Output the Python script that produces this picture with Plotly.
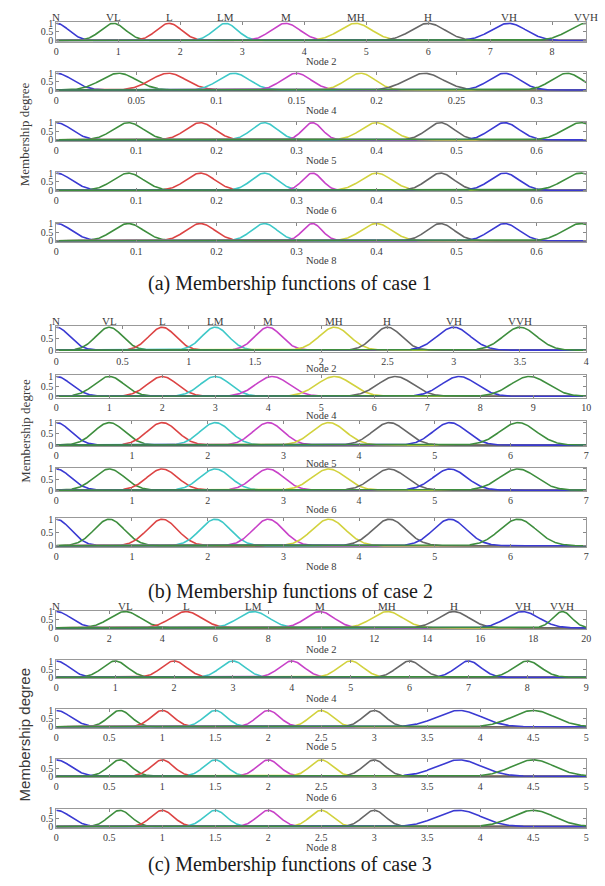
import numpy as np
import plotly.graph_objects as go

# ---------------- data ----------------
MF_NAMES = ["N", "VL", "L", "LM", "M", "MH", "H", "VH", "VVH"]
NODE_NAMES = ["Node 2", "Node 4", "Node 5", "Node 6", "Node 8"]
CASE_CAPTIONS = [
    "(a) Membership functions of case 1",
    "(b) Membership functions of case 2",
    "(c) Membership functions of case 3",
]
Y_TITLE = "Membership degree"
Y_TICK_VALUES = [0, 0.5, 1]
Y_TICK_LABELS = ["0", "0.5", "1"]

# case 1
c1_n2_centers = [0, 0.92, 1.82, 2.73, 3.70, 4.83, 6.00, 7.30, 8.55]
c1_n2_sigmas = [0.20, 0.20, 0.20, 0.19, 0.23, 0.26, 0.27, 0.28, 0.28]
c1_n2_range = [0, 8.55]
c1_n2_ticks = [0, 1, 2, 3, 4, 5, 6, 7, 8]
c1_n2_ticklabels = ["0", "1", "2", "3", "4", "5", "6", "7", "8"]

c1_n4_centers = [0, 0.039, 0.070, 0.111, 0.150, 0.190, 0.230, 0.280, 0.319]
c1_n4_sigmas = [0.010, 0.011, 0.011, 0.0095, 0.009, 0.009, 0.0115, 0.0095, 0.0095]
c1_n4_range = [0, 0.331]
c1_n4_ticks = [0, 0.05, 0.1, 0.15, 0.2, 0.25, 0.3]
c1_n4_ticklabels = ["0", "0.05", "0.1", "0.15", "0.2", "0.25", "0.3"]

c1_n568_centers = [0, 0.09, 0.18, 0.26, 0.32, 0.40, 0.48, 0.56, 0.655]
c1_n568_sigmas = [0.019, 0.019, 0.018, 0.016, 0.012, 0.019, 0.017, 0.018, 0.021]
c1_n568_range = [0, 0.662]
c1_n568_ticks = [0, 0.1, 0.2, 0.3, 0.4, 0.5, 0.6]
c1_n568_ticklabels = ["0", "0.1", "0.2", "0.3", "0.4", "0.5", "0.6"]

# case 2
c2_n2_centers = [0, 0.40, 0.80, 1.20, 1.60, 2.10, 2.50, 3.00, 3.50]
c2_n2_sigmas = [0.10, 0.10, 0.10, 0.10, 0.10, 0.115, 0.105, 0.125, 0.125]
c2_n2_range = [0, 4]
c2_n2_ticks = [0, 0.5, 1, 1.5, 2, 2.5, 3, 3.5, 4]
c2_n2_ticklabels = ["0", "0.5", "1", "1.5", "2", "2.5", "3", "3.5", "4"]

c2_n4_centers = [0, 1.0, 2.0, 3.0, 4.08, 5.25, 6.4, 7.6, 8.93]
c2_n4_sigmas = [0.28, 0.28, 0.28, 0.28, 0.31, 0.33, 0.33, 0.33, 0.35]
c2_n4_range = [0, 10]
c2_n4_ticks = [0, 1, 2, 3, 4, 5, 6, 7, 8, 9, 10]
c2_n4_ticklabels = ["0", "1", "2", "3", "4", "5", "6", "7", "8", "9", "10"]

c2_n568_centers = [0, 0.70, 1.40, 2.10, 2.80, 3.60, 4.40, 5.20, 6.10]
c2_n568_sigmas = [0.19, 0.20, 0.20, 0.20, 0.20, 0.22, 0.22, 0.22, 0.24]
c2_n568_range = [0, 7]
c2_n568_ticks = [0, 1, 2, 3, 4, 5, 6, 7]
c2_n568_ticklabels = ["0", "1", "2", "3", "4", "5", "6", "7"]

# case 3
c3_n2_centers = [0, 2.6, 4.9, 7.45, 9.95, 12.5, 15.0, 17.6, 19.1]
c3_n2_sigmas = [0.55, 0.58, 0.58, 0.58, 0.53, 0.58, 0.58, 0.62, 0.36]
c3_n2_range = [0, 20]
c3_n2_ticks = [0, 2, 4, 6, 8, 10, 12, 14, 16, 18, 20]
c3_n2_ticklabels = ["0", "2", "4", "6", "8", "10", "12", "14", "16", "18", "20"]

c3_n4_centers = [0, 1, 2, 3, 4, 5, 6, 7, 8]
c3_n4_sigmas = [0.22, 0.21, 0.21, 0.21, 0.21, 0.21, 0.21, 0.21, 0.23]
c3_n4_range = [0, 9]
c3_n4_ticks = [0, 1, 2, 3, 4, 5, 6, 7, 8, 9]
c3_n4_ticklabels = ["0", "1", "2", "3", "4", "5", "6", "7", "8", "9"]

c3_n568_centers = [0, 0.6, 1.0, 1.5, 2.0, 2.5, 3.0, 3.8, 4.5]
c3_n568_sigmas = [0.135, 0.105, 0.105, 0.105, 0.105, 0.105, 0.105, 0.21, 0.2]
c3_n568_range = [0, 5]
c3_n568_ticks = [0, 0.5, 1, 1.5, 2, 2.5, 3, 3.5, 4, 4.5, 5]
c3_n568_ticklabels = ["0", "0.5", "1", "1.5", "2", "2.5", "3", "3.5", "4", "4.5", "5"]


def panel(centers, sigmas, rng, ticks, labels):
    return dict(centers=centers, sigmas=sigmas, range=rng, ticks=ticks, labels=labels)


cases = [
    [panel(c1_n2_centers, c1_n2_sigmas, c1_n2_range, c1_n2_ticks, c1_n2_ticklabels),
     panel(c1_n4_centers, c1_n4_sigmas, c1_n4_range, c1_n4_ticks, c1_n4_ticklabels),
     panel(c1_n568_centers, c1_n568_sigmas, c1_n568_range, c1_n568_ticks, c1_n568_ticklabels),
     panel(c1_n568_centers, c1_n568_sigmas, c1_n568_range, c1_n568_ticks, c1_n568_ticklabels),
     panel(c1_n568_centers, c1_n568_sigmas, c1_n568_range, c1_n568_ticks, c1_n568_ticklabels)],
    [panel(c2_n2_centers, c2_n2_sigmas, c2_n2_range, c2_n2_ticks, c2_n2_ticklabels),
     panel(c2_n4_centers, c2_n4_sigmas, c2_n4_range, c2_n4_ticks, c2_n4_ticklabels),
     panel(c2_n568_centers, c2_n568_sigmas, c2_n568_range, c2_n568_ticks, c2_n568_ticklabels),
     panel(c2_n568_centers, c2_n568_sigmas, c2_n568_range, c2_n568_ticks, c2_n568_ticklabels),
     panel(c2_n568_centers, c2_n568_sigmas, c2_n568_range, c2_n568_ticks, c2_n568_ticklabels)],
    [panel(c3_n2_centers, c3_n2_sigmas, c3_n2_range, c3_n2_ticks, c3_n2_ticklabels),
     panel(c3_n4_centers, c3_n4_sigmas, c3_n4_range, c3_n4_ticks, c3_n4_ticklabels),
     panel(c3_n568_centers, c3_n568_sigmas, c3_n568_range, c3_n568_ticks, c3_n568_ticklabels),
     panel(c3_n568_centers, c3_n568_sigmas, c3_n568_range, c3_n568_ticks, c3_n568_ticklabels),
     panel(c3_n568_centers, c3_n568_sigmas, c3_n568_range, c3_n568_ticks, c3_n568_ticklabels)],
]

# ---------------- style / geometry (pixels) ----------------
FIG_W, FIG_H = 605, 886
X0, X1 = 54, 591
BOXES = [
    [(17.5, 37), (68, 87), (118, 137.5), (169, 188.5), (220, 239.5)],
    [(324.5, 350.5), (374.5, 397), (421, 446.5), (468, 492), (518.5, 548.5)],
    [(612.5, 631), (662.5, 681), (712.5, 731), (762.5, 781), (813.5, 832)],
]
NODE_LABEL_Y = [
    [57, 107, 157, 208, 258],
    [368, 415, 464, 510, 568],
    [652, 701, 750, 802, 852],
]
CAPTION_Y = [282, 593, 869]
CAPTION_X = 291
YTITLE_Y = [131, 431, 738]
YTITLE_X = 22

MF_COLORS = ["#3a3ad2", "#3e8e3e", "#dc4444", "#3ec8c8", "#c842c8",
             "#d2d23e", "#676767", "#3a3ad2", "#3e8e3e"]
SERIF = "Liberation Serif, Times New Roman, serif"
SANS = "Liberation Sans, Arial, sans-serif"
TXT = "#3a3a3a"

fig = go.Figure()
layout = dict(
    width=FIG_W, height=FIG_H, margin=dict(l=0, r=0, t=0, b=0),
    paper_bgcolor="white", plot_bgcolor="white", showlegend=False,
)
annotations = []


def px_x(p):
    return p / FIG_W


def px_y(p):
    return 1 - p / FIG_H


idx = 0
for ci, case in enumerate(cases):
    for ni, pn in enumerate(case):
        idx += 1
        sfx = "" if idx == 1 else str(idx)
        xref, yref = "x" + sfx, "y" + sfx
        xs = np.linspace(pn["range"][0], pn["range"][1], 700)
        for k, (c, s) in enumerate(zip(pn["centers"], pn["sigmas"])):
            ys = np.exp(-0.5 * ((xs - c) / s) ** 2)
            fig.add_trace(go.Scatter(
                x=xs, y=ys, mode="lines", xaxis=xref, yaxis=yref,
                line=dict(color=MF_COLORS[k], width=1.6),
                hoverinfo="skip", showlegend=False))
        top, bot = BOXES[ci][ni]
        layout["xaxis" + sfx] = dict(
            domain=[px_x(X0), px_x(X1)], anchor=yref, range=pn["range"],
            tickvals=pn["ticks"], ticktext=pn["labels"],
            ticks="inside", ticklen=3, tickcolor="#888", tickwidth=1,
            showline=True, linecolor="#999", linewidth=1, mirror="ticks",
            showgrid=False, zeroline=False,
            tickfont=dict(family=SERIF, size=10, color=TXT),
        )
        layout["yaxis" + sfx] = dict(
            domain=[px_y(bot), px_y(top)], anchor=xref, range=[-0.06, 1.06],
            tickvals=Y_TICK_VALUES, ticktext=Y_TICK_LABELS,
            ticks="inside", ticklen=3, tickcolor="#888", tickwidth=1,
            showline=True, linecolor="#999", linewidth=1, mirror="ticks",
            showgrid=False, zeroline=False,
            tickfont=dict(family=SERIF, size=10, color=TXT),
        )
        annotations.append(dict(
            text=NODE_NAMES[ni], xref="paper", yref="paper",
            x=px_x((X0 + X1) / 2), y=px_y(NODE_LABEL_Y[ci][ni]),
            xanchor="center", yanchor="middle", showarrow=False,
            font=dict(family=SERIF, size=10.5, color=TXT)))
        if ni == 0:
            for k, c in enumerate(pn["centers"]):
                annotations.append(dict(
                    text=MF_NAMES[k], xref=xref, yref=yref + " domain",
                    x=c, y=1, xanchor="center", yanchor="bottom", yshift=-3,
                    showarrow=False,
                    font=dict(family=SERIF, size=11, color=TXT)))
    annotations.append(dict(
        text=CASE_CAPTIONS[ci], xref="paper", yref="paper",
        x=px_x(CAPTION_X), y=px_y(CAPTION_Y[ci]),
        xanchor="center", yanchor="middle", showarrow=False,
        font=dict(family=SERIF, size=20, color="#1a1a1a")))
    annotations.append(dict(
        text=Y_TITLE, xref="paper", yref="paper",
        x=px_x(YTITLE_X), y=px_y(YTITLE_Y[ci]), textangle=-90,
        xanchor="center", yanchor="middle", showarrow=False,
        font=dict(family=SANS if ci == 2 else SERIF,
                  size=15 if ci == 2 else 13, color=TXT)))

layout["annotations"] = annotations
fig.update_layout(**layout)

fig.write_html("out.html", config={"displayModeBar": False},
               post_script="document.body.style.margin='0';document.body.style.overflow='hidden';")
